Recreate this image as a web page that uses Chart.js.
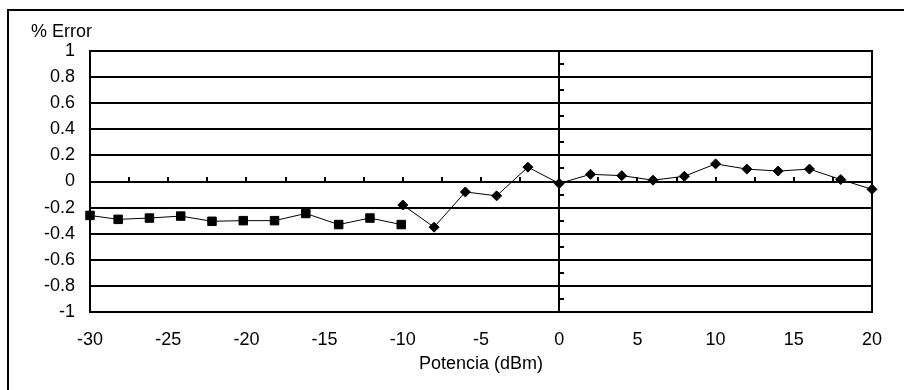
<!DOCTYPE html>
<html>
<head>
<meta charset="utf-8">
<script src="https://cdn.jsdelivr.net/npm/chart.js@4.4.1/dist/chart.umd.min.js"></script>
<style>
  body { margin: 0; background: #fff; }
</style>
</head>
<body>
<canvas id="grafico" width="904" height="390"></canvas>
<script>
// potencia (dBm) y % de error, tramo bajo (cuadrados)
const potenciaBaja = [-30, -28.2, -26.2, -24.2, -22.2, -20.2, -18.2, -16.2, -14.1, -12.1, -10.1];
const errorBaja = [-0.26, -0.29, -0.28, -0.265, -0.305, -0.30, -0.30, -0.245, -0.33, -0.28, -0.33];

// tramo alto (rombos)
const potenciaAlta = [-10, -8, -6, -4, -2, 0, 2, 4, 6, 8, 10, 12, 14, 16, 18, 20];
const errorAlta = [-0.18, -0.35, -0.08, -0.11, 0.11, -0.015, 0.055, 0.045, 0.01, 0.04, 0.135, 0.095, 0.08, 0.095, 0.015, -0.06];

const xTicks = ['-30', '-25', '-20', '-15', '-10', '-5', '0', '5', '10', '15', '20'];
const yTicks = ['1', '0.8', '0.6', '0.4', '0.2', '0', '-0.2', '-0.4', '-0.6', '-0.8', '-1'];

Chart.defaults.font.family = 'Arial, "Liberation Sans", sans-serif';
Chart.defaults.font.size = 18;
Chart.defaults.color = '#000';

function puntos(xs, ys) {
  return xs.map((x, i) => ({ x: x, y: ys[i] }));
}

// ejes en cero, marco y titulo del eje y
const ejes = {
  id: 'ejes',
  beforeDatasetsDraw(chart) {
    const ctx = chart.ctx;
    const a = chart.chartArea;
    const x = chart.scales.x;
    const y = chart.scales.y;
    const x0 = Math.round(x.getPixelForValue(0));
    const y0 = Math.round(y.getPixelForValue(0));

    ctx.save();
    ctx.strokeStyle = '#000';
    ctx.lineWidth = 2;

    ctx.beginPath();
    ctx.moveTo(8, 400);
    ctx.lineTo(8, 10);
    ctx.lineTo(910, 10);
    ctx.stroke();

    ctx.beginPath();
    ctx.moveTo(a.right, a.top - 1);
    ctx.lineTo(a.right, a.bottom + 1);
    ctx.moveTo(x0, a.top);
    ctx.lineTo(x0, a.bottom);
    ctx.stroke();

    ctx.beginPath();
    for (let v = -27.5; v < 20; v += 2.5) {
      const px = Math.round(x.getPixelForValue(v));
      ctx.moveTo(px, y0);
      ctx.lineTo(px, y0 - 5);
    }
    for (let v = -0.9; v < 1; v += 0.2) {
      const py = Math.round(y.getPixelForValue(v));
      ctx.moveTo(x0, py);
      ctx.lineTo(x0 + 5, py);
    }
    ctx.stroke();

    ctx.fillStyle = '#000';
    ctx.font = '18px Arial, "Liberation Sans", sans-serif';
    ctx.textAlign = 'left';
    ctx.textBaseline = 'middle';
    ctx.fillText('% Error', 31, 32);
    ctx.restore();
  }
};

new Chart(document.getElementById('grafico'), {
  type: 'scatter',
  data: {
    datasets: [{
      data: puntos(potenciaBaja, errorBaja),
      showLine: true,
      borderColor: '#000',
      borderWidth: 1,
      pointStyle: 'rect',
      pointRadius: 6,
      backgroundColor: '#000',
      clip: false
    }, {
      data: puntos(potenciaAlta, errorAlta),
      showLine: true,
      borderColor: '#000',
      borderWidth: 1,
      pointStyle: 'rectRot',
      pointRadius: 5,
      backgroundColor: '#000',
      clip: false
    }]
  },
  options: {
    responsive: false,
    animation: false,
    layout: { padding: { left: 0, top: 51, right: 32, bottom: 0 } },
    plugins: {
      legend: { display: false },
      tooltip: { enabled: false }
    },
    scales: {
      x: {
        type: 'linear',
        min: -30,
        max: 20,
        grid: { display: false },
        border: { display: false },
        ticks: {
          stepSize: 5,
          autoSkip: false,
          maxRotation: 0,
          padding: 9,
          callback: v => xTicks[Math.round((v + 30) / 5)]
        },
        title: {
          display: true,
          text: 'Potencia (dBm)',
          padding: { top: 0, bottom: 15 }
        },
        afterFit(scale) { scale.height = 78; }
      },
      y: {
        min: -1,
        max: 1,
        grid: { color: '#000', lineWidth: 2, drawTicks: false },
        border: { color: '#000', width: 2 },
        ticks: {
          stepSize: 0.2,
          padding: 15,
          callback: v => yTicks[Math.round((1 - v) / 0.2)]
        },
        afterFit(scale) { scale.width = 90; }
      }
    }
  },
  plugins: [ejes]
});
</script>
</body>
</html>
